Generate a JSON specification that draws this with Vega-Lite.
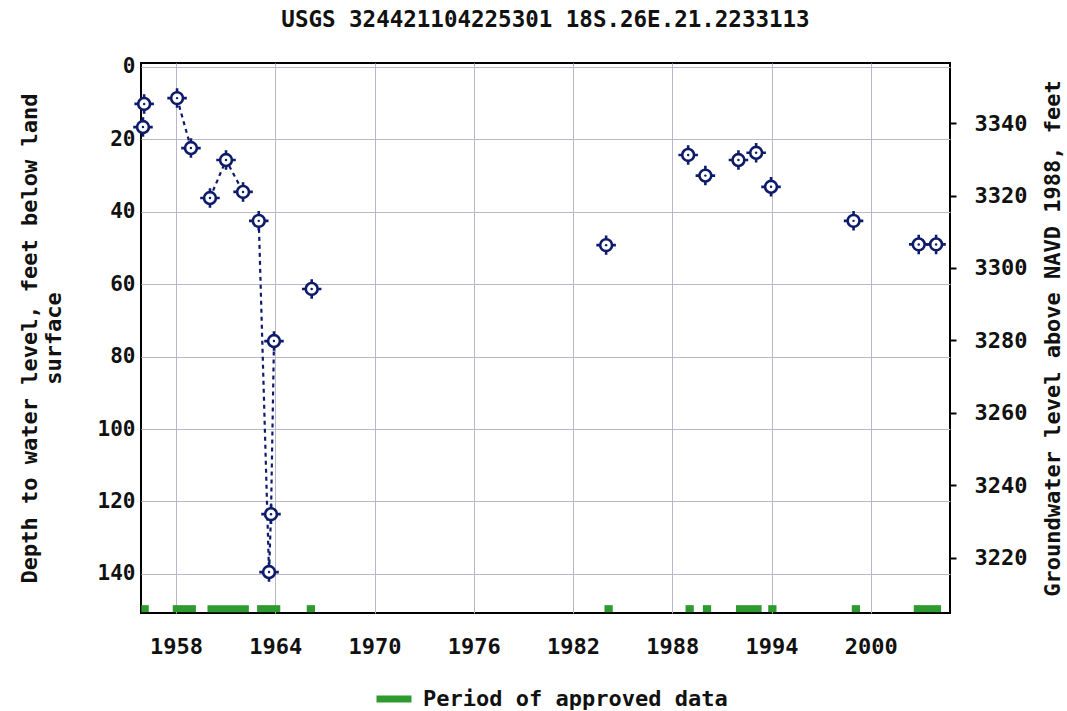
{
  "$schema": "https://vega.github.io/schema/vega-lite/v6.json",
  "autosize": {"type": "none"},
  "width": 809,
  "height": 550,
  "padding": {"left": 141, "top": 63, "right": 117, "bottom": 98},
  "background": "white",
  "title": {
    "text": "USGS 324421104225301 18S.26E.21.2233113",
    "font": "DejaVu Sans Mono",
    "fontSize": 22.5,
    "fontWeight": "bold",
    "color": "#111",
    "offset": 24,
    "anchor": "middle"
  },
  "config": {
    "view": {"stroke": "#000", "strokeWidth": 2},
    "axis": {
      "labelFont": "DejaVu Sans Mono",
      "labelFontSize": 21,
      "labelFontWeight": "bold",
      "labelColor": "#111",
      "titleFont": "DejaVu Sans Mono",
      "titleFontSize": 22,
      "titleFontWeight": "bold",
      "titleColor": "#111",
      "gridColor": "#b8b8cc",
      "gridWidth": 1,
      "domain": false
    },
    "legend": {
      "labelFont": "DejaVu Sans Mono",
      "labelFontSize": 22,
      "labelFontWeight": "bold",
      "labelColor": "#111",
      "labelLimit": 0
    }
  },
  "datasets": {
    "levels": [
      {"year": 1956.07, "depth": 10.2, "seg": null},
      {"year": 1956.0, "depth": 16.6, "seg": null},
      {"year": 1958.06, "depth": 8.6, "seg": "a"},
      {"year": 1958.9, "depth": 22.4, "seg": "a"},
      {"year": 1960.05, "depth": 36.2, "seg": "b"},
      {"year": 1961.02, "depth": 25.7, "seg": "b"},
      {"year": 1962.05, "depth": 34.5, "seg": "b"},
      {"year": 1963.0, "depth": 42.5, "seg": "c"},
      {"year": 1963.62, "depth": 139.5, "seg": "c"},
      {"year": 1963.74, "depth": 123.5, "seg": "c"},
      {"year": 1963.92, "depth": 75.7, "seg": "c"},
      {"year": 1966.2, "depth": 61.3, "seg": null},
      {"year": 1984.0, "depth": 49.2, "seg": null},
      {"year": 1988.96, "depth": 24.3, "seg": null},
      {"year": 1990.0, "depth": 30.0, "seg": null},
      {"year": 1992.0, "depth": 25.7, "seg": null},
      {"year": 1993.07, "depth": 23.7, "seg": null},
      {"year": 1993.97, "depth": 33.1, "seg": null},
      {"year": 1998.96, "depth": 42.5, "seg": null},
      {"year": 2002.9, "depth": 49.0, "seg": null},
      {"year": 2003.95, "depth": 49.0, "seg": null}
    ],
    "approved": [
      {"start": 1955.9, "end": 1956.35},
      {"start": 1957.8, "end": 1959.2},
      {"start": 1959.9, "end": 1962.4},
      {"start": 1962.9, "end": 1964.3},
      {"start": 1965.9, "end": 1966.4},
      {"start": 1983.9, "end": 1984.4},
      {"start": 1988.8, "end": 1989.3},
      {"start": 1989.85, "end": 1990.35},
      {"start": 1991.85, "end": 1993.4},
      {"start": 1993.8, "end": 1994.3},
      {"start": 1998.85, "end": 1999.35},
      {"start": 2002.6, "end": 2004.25}
    ]
  },
  "layer": [
    {
      "layer": [
        {
          "data": {"name": "approved"},
          "mark": {"type": "rule", "strokeWidth": 7, "strokeCap": "butt"},
          "encoding": {
            "x": {"field": "start", "type": "quantitative",
                  "scale": {"domain": [1955.88, 2004.79], "nice": false, "zero": false},
                  "axis": {"values": [1958, 1964, 1970, 1976, 1982, 1988, 1994, 2000], "format": "d",
                           "title": null, "ticks": false, "labelPadding": 23, "labelFontSize": 22, "grid": true}},
            "x2": {"field": "end"},
            "y": {"datum": 149.6, "type": "quantitative",
                  "scale": {"domain": [-1.1, 150.8], "reverse": true, "nice": false, "zero": false},
                  "axis": {"values": [0, 20, 40, 60, 80, 100, 120, 140],
                           "title": ["Depth to water level, feet below land", "surface"],
                           "ticks": false, "labelPadding": 6, "titlePadding": 32, "grid": true}},
            "color": {"datum": "Period of approved data", "type": "nominal",
                      "scale": {"range": ["#2f9a2f"]},
                      "legend": {"title": null, "orient": "none", "legendX": 232, "legendY": 615,
                                 "symbolType": "stroke", "symbolSize": 1225, "symbolStrokeWidth": 7,
                                 "labelOffset": 8}}
          }
        },
        {
          "data": {"name": "levels"},
          "transform": [{"filter": "datum.seg != null"}],
          "mark": {"type": "line", "strokeDash": [4, 4], "strokeWidth": 2.2, "color": "#0e1b6a"},
          "encoding": {
            "x": {"field": "year", "type": "quantitative"},
            "y": {"field": "depth", "type": "quantitative"},
            "detail": {"field": "seg"},
            "order": {"field": "year"}
          }
        },
        {
          "data": {"name": "levels"},
          "mark": {"type": "point", "shape": "circle", "size": 140, "filled": false, "fill": "white", "fillOpacity": 1,
                   "stroke": "#0e1b6a", "strokeWidth": 2.6, "opacity": 1},
          "encoding": {
            "x": {"field": "year", "type": "quantitative"},
            "y": {"field": "depth", "type": "quantitative"}
          }
        },
        {
          "data": {"name": "levels"},
          "mark": {"type": "point", "shape": "M0,-1L0,-0.62M0,0.62L0,1M-1,0L-0.62,0M0.62,0L1,0", "size": 380,
                   "filled": false, "stroke": "#0e1b6a", "strokeWidth": 2.6, "opacity": 1},
          "encoding": {
            "x": {"field": "year", "type": "quantitative"},
            "y": {"field": "depth", "type": "quantitative"}
          }
        },
        {
          "data": {"name": "levels"},
          "mark": {"type": "point", "shape": "circle", "size": 6, "filled": true, "color": "#0e1b6a", "opacity": 1},
          "encoding": {
            "x": {"field": "year", "type": "quantitative"},
            "y": {"field": "depth", "type": "quantitative"}
          }
        }
      ]
    },
    {
      "data": {"values": [{"e": 3300}]},
      "mark": {"type": "point", "opacity": 0},
      "encoding": {
        "x": {"datum": 1980, "type": "quantitative"},
        "y": {"field": "e", "type": "quantitative",
              "scale": {"domain": [3204.7, 3356.6], "nice": false, "zero": false},
              "axis": {"orient": "right", "values": [3220, 3240, 3260, 3280, 3300, 3320, 3340], "format": "d",
                       "title": "Groundwater level above NAVD 1988, feet", "labelFontSize": 22,
                       "titleAngle": 270, "grid": false, "ticks": true, "tickSize": 6, "tickColor": "#000",
                       "tickWidth": 2, "labelPadding": 18, "titlePadding": 38}}
      }
    }
  ],
  "resolve": {"scale": {"y": "independent"}}
}
